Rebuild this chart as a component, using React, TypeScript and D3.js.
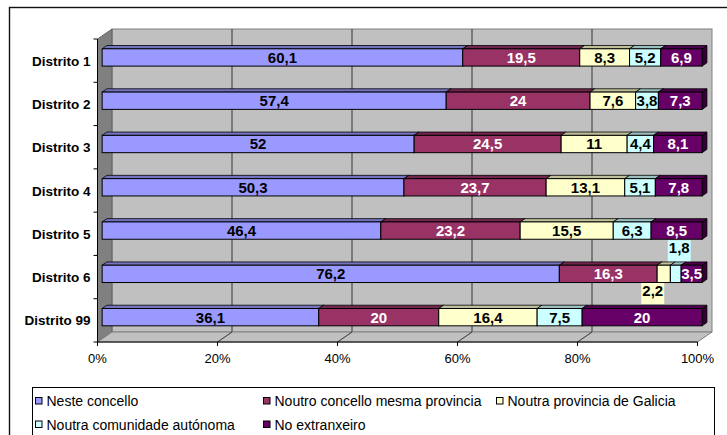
import React from "react";
import * as d3 from "d3";

const categories = ["Distrito 1", "Distrito 2", "Distrito 3", "Distrito 4", "Distrito 5", "Distrito 6", "Distrito 99"];
const seriesNames = [
  "Neste concello",
  "Noutro concello mesma provincia",
  "Noutra provincia de Galicia",
  "Noutra comunidade autónoma",
  "No extranxeiro",
];
const neste = [60.1, 57.4, 52, 50.3, 46.4, 76.2, 36.1];
const noutroConcello = [19.5, 24, 24.5, 23.7, 23.2, 16.3, 20];
const noutraProvincia = [8.3, 7.6, 11, 13.1, 15.5, 2.2, 16.4];
const noutraComunidade = [5.2, 3.8, 4.4, 5.1, 6.3, 1.8, 7.5];
const extranxeiro = [6.9, 7.3, 8.1, 7.8, 8.5, 3.5, 20];
const xTicks = [0, 0.2, 0.4, 0.6, 0.8, 1];

const seriesValues = [neste, noutroConcello, noutraProvincia, noutraComunidade, extranxeiro];
const colors = ["#9999FF", "#993366", "#FFFFCC", "#CCFFFF", "#660066"];
const labelColors = ["#000", "#fff", "#000", "#000", "#fff"];

const FONT = "'Liberation Sans', Arial, Helvetica, sans-serif";

// geometry
const X0 = 97.5, X1 = 697.5; // front plane of plot
const Y0 = 39, Y1 = 342;
const DX = 14.5, DY = -10; // depth of walls
const F1 = 0.32, F2 = 0.65; // bar depth fractions

function shade(c: string, k: number) {
  const col = d3.rgb(c);
  return d3.rgb(col.r * k, col.g * k, col.b * k).formatHex();
}

const fmt = (v: number) => String(v).replace(".", ",");

export default function App() {
  const x = d3.scaleLinear().domain([0, 1]).range([X0, X1]);
  const y = d3.scaleBand<string>().domain(categories).range([Y0, Y1]).paddingInner(0.6).paddingOuter(0.3);
  const step = y.step();
  const bw = y.bandwidth();

  const o1x = DX * F1, o1y = DY * F1, o2x = DX * F2, o2y = DY * F2;

  const data = categories.map((c, i) => {
    const vals = seriesValues.map((s) => s[i]);
    const total = d3.sum(vals);
    let acc = 0;
    return vals.map((v, j) => {
      const a = acc / total;
      acc += v;
      const b = acc / total;
      return { cat: c, v, a, b, j };
    });
  });

  const bars: React.ReactNode[] = [];
  const labels: React.ReactNode[] = [];

  data.forEach((row, i) => {
    const top = (y(row[0].cat) as number) + o1y;
    const bot = top + bw;
    let narrowCount = 0;
    row.forEach((s) => {
      const xa = x(s.a) + o1x;
      const xb = x(s.b) + o1x;
      const col = colors[s.j];
      const topPts = [
        [xa, top],
        [xb, top],
        [xb + (o2x - o1x), top + (o2y - o1y)],
        [xa + (o2x - o1x), top + (o2y - o1y)],
      ];
      const sidePts = [
        [xb, top],
        [xb + (o2x - o1x), top + (o2y - o1y)],
        [xb + (o2x - o1x), bot + (o2y - o1y)],
        [xb, bot],
      ];
      bars.push(
        <g key={`b${i}-${s.j}`}>
          <polygon points={sidePts.map((p) => p.join(",")).join(" ")} fill={shade(col, 0.5)} stroke="#000" strokeWidth={0.8} />
          <polygon points={topPts.map((p) => p.join(",")).join(" ")} fill={shade(col, 0.75)} stroke="#000" strokeWidth={0.8} />
          <rect x={xa} y={top} width={xb - xa} height={bw} fill={col} stroke="#000" strokeWidth={1} />
        </g>
      );
      const cx = (xa + xb) / 2;
      const cy = top + bw / 2;
      const txt = fmt(s.v);
      const pxW = xb - xa;
      if (pxW < 15) {
        // narrow segment: label placed outside the bar with a box in the series colour
        const below = narrowCount === 0;
        narrowCount++;
        const lx = below ? cx - 11 : cx + 3.5;
        const ly = below ? bot + 8.5 : top - 17;
        labels.push(
          <g key={`l${i}-${s.j}`}>
            <rect x={lx - 11.5} y={ly - 8} width={23} height={21} fill={col} />
            <text x={lx} y={ly + 5.2} textAnchor="middle" fontFamily={FONT} fontWeight="bold" fontSize={15} fill={labelColors[s.j]}>
              {txt}
            </text>
          </g>
        );
      } else {
        labels.push(
          <text key={`l${i}-${s.j}`} x={cx} y={cy + 5.4} textAnchor="middle" fontFamily={FONT} fontWeight="bold" fontSize={15} fill={labelColors[s.j]}>
            {txt}
          </text>
        );
      }
    });
  });

  const backX = (v: number) => x(v) + DX;
  const backTop = Y0 + DY;
  const backBot = Y1 + DY;

  return (
    <svg width={727} height={435} style={{ position: "absolute", left: 0, top: 0, background: "#fff" }}>
      <rect x={0} y={0} width={727} height={435} fill="#fff" />
      {/* chart border */}
      <rect x={9.5} y={7.5} width={730} height={440} fill="none" stroke="#111" strokeWidth={1.4} />

      {/* back wall */}
      <rect x={backX(0)} y={backTop} width={backX(1) - backX(0)} height={backBot - backTop} fill="#C0C0C0" stroke="#808080" strokeWidth={1} />
      {xTicks.slice(1, -1).map((t) => (
        <line key={`g${t}`} x1={backX(t)} x2={backX(t)} y1={backTop} y2={backBot} stroke="#333" strokeWidth={1} />
      ))}
      {/* left wall */}
      <polygon
        points={[[X0, Y0], [X0 + DX, backTop], [X0 + DX, backBot], [X0, Y1]].map((p) => p.join(",")).join(" ")}
        fill="#808080"
        stroke="#555"
        strokeWidth={0.8}
      />
      {/* floor */}
      <polygon
        points={[[X0, Y1], [backX(0), backBot], [backX(1), backBot], [X1, Y1]].map((p) => p.join(",")).join(" ")}
        fill="#C0C0C0"
        stroke="#808080"
        strokeWidth={1}
      />
      {xTicks.slice(1, -1).map((t) => (
        <line key={`fg${t}`} x1={backX(t)} y1={backBot} x2={x(t)} y2={Y1} stroke="#333" strokeWidth={1} />
      ))}

      {/* axes */}
      <line x1={X0} x2={X0} y1={Y0} y2={Y1} stroke="#000" strokeWidth={1} />
      <line x1={X0} x2={X1} y1={Y1} y2={Y1} stroke="#000" strokeWidth={1} />
      {d3.range(categories.length + 1).map((k) => (
        <line key={`yt${k}`} x1={X0 - 4} x2={X0} y1={Y0 + k * step} y2={Y0 + k * step} stroke="#000" strokeWidth={1} />
      ))}
      {xTicks.map((t) => (
        <g key={`xt${t}`}>
          <line x1={x(t)} x2={x(t)} y1={Y1} y2={Y1 + 4} stroke="#000" strokeWidth={1} />
          <text x={x(t)} y={362.7} textAnchor="middle" fontFamily={FONT} fontSize={13} fill="#000">
            {d3.format(".0%")(t)}
          </text>
        </g>
      ))}
      {categories.map((c) => (
        <text
          key={`cl${c}`}
          x={90.5}
          y={(y(c) as number) + bw / 2 + 5}
          textAnchor="end"
          fontFamily={FONT}
          fontWeight="bold"
          fontSize={13.5}
          fill="#000"
        >
          {c}
        </text>
      ))}

      {bars}
      {labels}

      {/* legend */}
      <rect x={32.5} y={387.5} width={682} height={60} fill="#fff" stroke="#000" strokeWidth={1} />
      {seriesNames.map((name, j) => {
        const colX = [35.5, 263.5, 496.5][j % 3 === 0 && j > 2 ? 0 : j < 3 ? j : j - 3];
        const rowY = j < 3 ? 406 : 429.5;
        return (
          <g key={`lg${j}`}>
            <rect x={colX} y={rowY - 8.5} width={6.5} height={6.5} fill={colors[j]} stroke="#000" strokeWidth={1} />
            <text x={colX + 11} y={rowY} fontFamily={FONT} fontSize={14} fill="#000">
              {name}
            </text>
          </g>
        );
      })}
    </svg>
  );
}
